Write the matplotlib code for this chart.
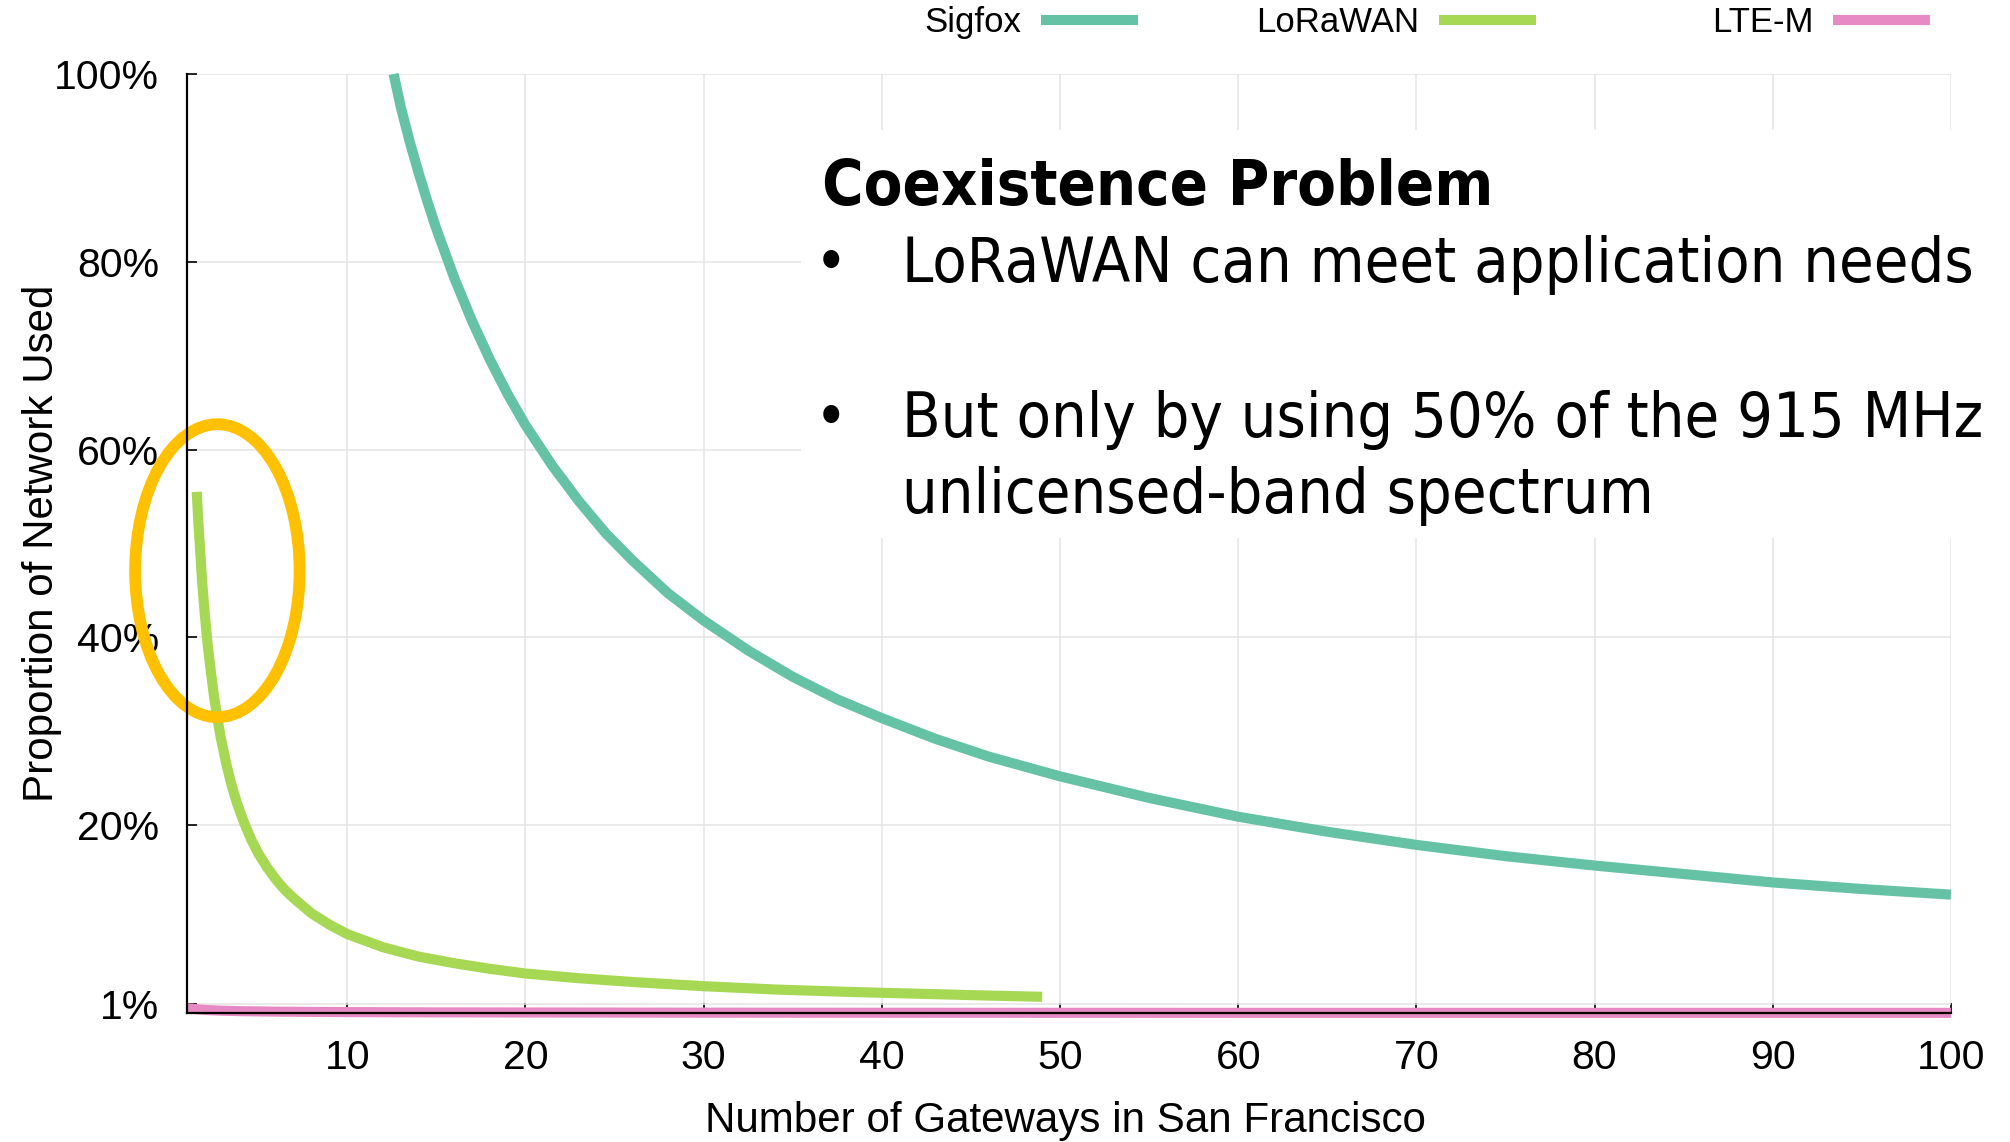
import matplotlib
matplotlib.use("Agg")
import matplotlib.pyplot as plt
from matplotlib.patches import Ellipse, Rectangle

# ---- data ----
sigfox_x = [12.6, 13, 13.5, 14, 14.5, 15, 16, 17, 18, 19, 20, 21.5, 23, 24.5,
            26, 28, 30, 32.5, 35, 37.5, 40, 43, 46, 50, 55, 60, 65, 70, 75,
            80, 85, 90, 95, 100]
sigfox_y = [1.000, 0.965, 0.928, 0.895, 0.864, 0.835, 0.783, 0.737, 0.696,
            0.659, 0.626, 0.583, 0.545, 0.511, 0.482, 0.447, 0.418, 0.386,
            0.358, 0.334, 0.314, 0.292, 0.273, 0.252, 0.229, 0.209, 0.193,
            0.179, 0.167, 0.157, 0.148, 0.139, 0.132, 0.126]

lorawan_x = [1.55, 1.65, 1.75, 1.85, 2.0, 2.15, 2.3, 2.5, 2.7, 2.9, 3.2, 3.5,
             3.8, 4.2, 4.6, 5.0, 5.5, 6.0, 6.5, 7, 7.5, 8, 9, 10, 11, 12, 13,
             14, 16, 18, 20, 23, 26, 30, 34, 38, 42, 46, 49]
lorawan_y = [0.555, 0.52, 0.49, 0.46, 0.425, 0.395, 0.37, 0.34, 0.315, 0.293,
             0.266, 0.243, 0.224, 0.203, 0.185, 0.170, 0.155, 0.142, 0.131,
             0.122, 0.114, 0.106, 0.094, 0.084, 0.077, 0.070, 0.065, 0.060,
             0.053, 0.047, 0.042, 0.037, 0.033, 0.0285, 0.025, 0.0225,
             0.0205, 0.0185, 0.0172]

ltem_x = [1, 2, 3, 4, 6, 8, 10, 15, 20, 30, 40, 60, 80, 100]
ltem_y = [0.0050, 0.0032, 0.0024, 0.0019, 0.0014, 0.0011, 0.0009, 0.0006,
          0.0005, 0.0003, 0.0002, 0.0001, 0.0001, 0.0001]

series_names = ["Sigfox", "LoRaWAN", "LTE-M"]
series_colors = ["#66c2a5", "#a6d854", "#e78ac3"]

x_ticks = [10, 20, 30, 40, 50, 60, 70, 80, 90, 100]
y_ticks = [0.01, 0.2, 0.4, 0.6, 0.8, 1.0]
y_tick_labels = ["1%", "20%", "40%", "60%", "80%", "100%"]

title_text = "Coexistence Problem"
bullet_lines = ["LoRaWAN can meet application needs",
                "But only by using 50% of the 915 MHz",
                "unlicensed-band spectrum"]

# highlight ellipse (data coords)
ell_center = (2.71, 0.471)
ell_w, ell_h = 9.23, 0.312

# ---- figure ----
plt.rcParams["font.family"] = ["Liberation Sans", "DejaVu Sans"]
fig = plt.figure(figsize=(20.1, 11.42), dpi=100)
ax = fig.add_axes([0.0930, 0.1130, 0.8776, 0.8222])
ax.set_xlim(1, 100)
ax.set_ylim(0, 1)

ax.set_xticks(x_ticks)
ax.set_xticklabels([str(t) for t in x_ticks])
ax.set_yticks(y_ticks)
ax.set_yticklabels(y_tick_labels)
ax.grid(True, color="#e4e4e4", lw=1.1)
ax.set_axisbelow(True)

for s in ["top", "right"]:
    ax.spines[s].set_visible(False)
for s in ["left", "bottom"]:
    ax.spines[s].set_color("black")
    ax.spines[s].set_linewidth(1.6)
    ax.spines[s].set_zorder(6)

ax.tick_params(axis="both", direction="in", length=7, width=1.2,
               labelsize=29.5, pad=19)
ax.tick_params(axis="y", pad=20)

lw = 7.3
l1, = ax.plot(sigfox_x, sigfox_y, color=series_colors[0], lw=lw,
              solid_capstyle="butt", solid_joinstyle="round",
              clip_on=False, zorder=3)
l2, = ax.plot(lorawan_x, lorawan_y, color=series_colors[1], lw=lw,
              solid_capstyle="butt", solid_joinstyle="round",
              clip_on=False, zorder=3)
l3, = ax.plot(ltem_x, ltem_y, color=series_colors[2], lw=lw,
              solid_capstyle="butt", solid_joinstyle="round",
              clip_on=False, zorder=3)

ax.add_patch(Ellipse(ell_center, ell_w, ell_h, fill=False, ec="#ffc000",
                     lw=8.5, clip_on=False, zorder=4))

ax.set_xlabel("Number of Gateways in San Francisco", fontsize=30.3)
ax.set_ylabel("Proportion of Network Used", fontsize=30.3)
ax.xaxis.set_label_coords(0.498, -0.094)
ax.yaxis.set_label_coords(-0.071, 0.5)

# legend entries: text right-aligned before sample
for line, name, xa in zip([l1, l2, l3], series_names, [0.566, 0.764, 0.960]):
    fig.legend([line], [name], loc="center right", bbox_to_anchor=(xa, 0.980),
               frameon=False, markerfirst=False, handlelength=2.77,
               handletextpad=0.58, borderpad=0, borderaxespad=0,
               fontsize=25)

# white text panel covering grid
fig.add_artist(Rectangle((0.3985, 0.5289), 0.6015, 0.3573,
                         transform=fig.transFigure, fc="white", ec="none",
                         zorder=1))

tf = dict(family="DejaVu Sans", stretch="condensed")
fig.text(0.409, 0.8205, title_text, fontsize=45.4, fontweight="bold",
         va="baseline", ha="left", zorder=2, **tf)
fig.text(0.4134, 0.7531, "\u2022", fontsize=44, va="baseline", ha="center",
         zorder=2, **tf)
fig.text(0.4134, 0.6173, "\u2022", fontsize=44, va="baseline", ha="center",
         zorder=2, **tf)
for txt, yb in zip(bullet_lines, [0.7531, 0.6173, 0.5504]):
    fig.text(0.4488, yb, txt, fontsize=45.2, va="baseline", ha="left",
             zorder=2, **tf)

fig.savefig("out.png", dpi=100, facecolor="white")
